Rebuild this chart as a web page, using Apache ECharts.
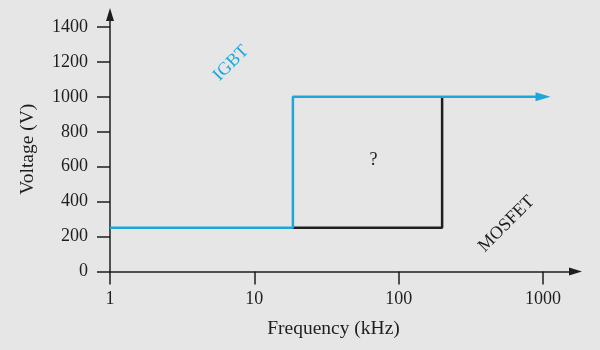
<!DOCTYPE html>
<html>
<head>
<meta charset="utf-8">
<script src="https://cdn.jsdelivr.net/npm/echarts@6/dist/echarts.min.js"></script>
<style>
html,body{margin:0;padding:0;background:#e6e6e7;}
#c{width:600px;height:350px;}
</style>
</head>
<body>
<div id="c"></div>
<script>
// Data (frequency in kHz, voltage in V)
const igbtFreq = [1, 18.5, 18.5, 1000];
const igbtVolt = [250, 250, 1000, 1000];
const mosfetFreq = [18.5, 200, 200];
const mosfetVolt = [250, 250, 1000];
const yMin = 0, yMax = 1400, yStep = 200;
const xMin = 1, xMax = 1000;
const noteTexts = ['IGBT', 'MOSFET', '?'];
const noteFreq = [6.9, 559, 67];
const noteVolt = [1192, 272, 637];

const FONT = 'Liberation Serif';
const INK = '#1e1e1e';
const BLUE = '#1ca7dc';

const igbtData = igbtFreq.map((f, i) => {
  const item = { value: [f, igbtVolt[i]] };
  if (i === igbtFreq.length - 1) {
    item.symbol = 'triangle';
    item.symbolSize = [9, 15];
    item.symbolRotate = -90;
  }
  return item;
});
const mosfetData = mosfetFreq.map((f, i) => [f, mosfetVolt[i]]);
const noteData = noteTexts.map((t, i) => [noteFreq[i], noteVolt[i], i]);

const plain = v => String(Math.round(v));

const chart = echarts.init(document.getElementById('c'), null, { renderer: 'canvas' });
chart.setOption({
  animation: false,
  backgroundColor: '#e6e6e7',
  textStyle: { fontFamily: FONT },
  grid: [
    { left: 110, right: 57, top: 27, bottom: 78.5 },
    { left: 110, right: 24.5, top: 14.5, bottom: 78.5 }
  ],
  xAxis: [
    {
      gridIndex: 0, type: 'log', logBase: 10, min: xMin, max: xMax,
      axisLine: { show: false },
      axisTick: { show: true, inside: false, length: 13, lineStyle: { color: INK, width: 1.5 } },
      axisLabel: { color: INK, fontFamily: FONT, fontSize: 18, margin: 19, formatter: plain },
      splitLine: { show: false },
      minorTick: { show: false },
      name: 'Frequency (kHz)', nameLocation: 'middle', nameGap: 57.5,
      nameTextStyle: { color: INK, fontFamily: FONT, fontSize: 19.5, verticalAlign: 'middle', padding: [0, 0, 0, 14] }
    },
    {
      gridIndex: 1, type: 'value', min: 0, max: 1,
      axisLine: { show: true, symbol: ['none', 'triangle'], symbolSize: [8, 13], lineStyle: { color: INK, width: 1.5 } },
      axisTick: { show: false }, axisLabel: { show: false }, splitLine: { show: false }
    }
  ],
  yAxis: [
    {
      gridIndex: 0, type: 'value', min: yMin, max: yMax, interval: yStep,
      axisLine: { show: false },
      axisTick: { show: true, inside: false, length: 13, lineStyle: { color: INK, width: 1.5 } },
      axisLabel: { color: INK, fontFamily: FONT, fontSize: 18, margin: 22, formatter: plain },
      splitLine: { show: false },
      name: 'Voltage (V)', nameLocation: 'middle', nameGap: 82,
      nameTextStyle: { color: INK, fontFamily: FONT, fontSize: 19.5, verticalAlign: 'middle' }
    },
    {
      gridIndex: 1, type: 'value', min: 0, max: 1,
      axisLine: { show: true, symbol: ['none', 'triangle'], symbolSize: [8, 13], lineStyle: { color: INK, width: 1.5 } },
      axisTick: { show: false }, axisLabel: { show: false }, splitLine: { show: false }
    }
  ],
  series: [
    {
      name: 'MOSFET', type: 'line', xAxisIndex: 0, yAxisIndex: 0,
      data: mosfetData, symbol: 'none', clip: false,
      lineStyle: { color: INK, width: 2.5 }, itemStyle: { color: INK }
    },
    {
      name: 'IGBT', type: 'line', xAxisIndex: 0, yAxisIndex: 0,
      data: igbtData, symbol: 'none', clip: false,
      lineStyle: { color: BLUE, width: 2.5 }, itemStyle: { color: BLUE }
    },
    {
      name: 'notes', type: 'custom', xAxisIndex: 0, yAxisIndex: 0,
      data: noteData, silent: true, clip: false,
      encode: { x: 0, y: 1 },
      renderItem: function (params, api) {
        const idx = api.value(2);
        const p = api.coord([api.value(0), api.value(1)]);
        return {
          type: 'text',
          x: p[0], y: p[1],
          rotation: idx < 2 ? Math.PI / 4 : 0,
          style: {
            text: noteTexts[idx],
            fill: idx === 0 ? BLUE : INK,
            font: '18px "Liberation Serif"',
            align: 'center',
            verticalAlign: 'middle'
          }
        };
      }
    }
  ]
});
</script>
</body>
</html>
